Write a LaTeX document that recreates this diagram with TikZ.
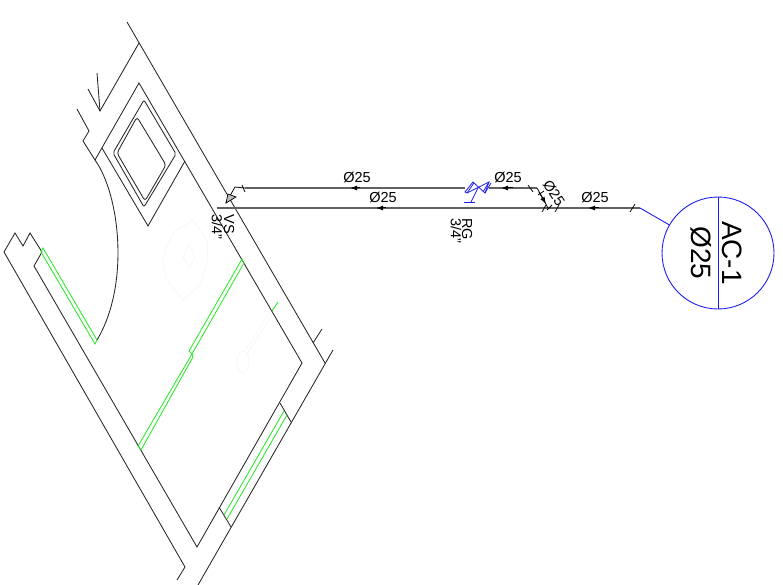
\documentclass[tikz,border=0pt]{standalone}
\usepackage{fontspec}
\setmainfont{Liberation Sans}
\usetikzlibrary{arrows.meta}
\definecolor{glass}{RGB}{40,235,40}
\definecolor{tagblue}{RGB}{30,30,235}
\definecolor{faint}{RGB}{245,245,245}
\tikzset{
  wall/.style={draw=black!85, line width=.85pt, line join=miter},
  glazing/.style={draw=glass, line width=.85pt},
  pipe/.style={draw=black!62, line width=1.3pt},
  slash/.style={draw=black, line width=.75pt},
  flow/.style={draw=black, line width=1pt, -{Latex[length=7pt,width=5pt]}},
  valve/.style={draw=tagblue, line width=.8pt},
  lab/.style={inner sep=0pt, font=\fontsize{14.5}{14.5}\selectfont},
  tagtext/.style={inner sep=0pt, rotate=-90, font=\fontsize{28}{28}\selectfont}
}
\begin{document}
\begin{tikzpicture}[x=1pt, y=-1pt]
    \useasboundingbox (0,0) rectangle (783,585);
    % outer and inner walls
    \draw[wall] (127,22) -- (325,363);
    \draw[wall] (333,350) -- (198,585);
    \draw[wall] (313,343) -- (322,329);
    \draw[wall] (34,266) -- (42,252) -- (30,233) -- (23,246) -- (15,233) -- (4,252) -- (185,567) -- (177,580);
    \draw[wall] (34,266) -- (197,547) -- (302,363) -- (139,83) -- (95,160);
    \draw[wall] (139,43) -- (100,111) -- (88,89);
    \draw[wall] (100,111) -- (97,73);
    \draw[wall] (77,109) -- (89,131) -- (83,141) -- (95,160);
    % shower tray
    \draw[wall] (102,148) -- (148,226) -- (185,161);
    \draw[wall, rounded corners=2pt] (144,100) -- (176,154) -- (144,207) -- (113,153) -- cycle;
    \draw[wall, rounded corners=3pt] (137,117) -- (166,165) -- (145,201) -- (117,153) -- cycle;
    % door swing
    \draw[wall] (95,160) .. controls (120,195) and (130,285) .. (97,340);
    % window jambs
    \draw[wall] (280,403) -- (291,422);
    \draw[wall] (219,507) -- (231,527);
    % glazing
    \draw[glazing] (43,248) -- (97,340) -- (95,344) -- (41,252) -- cycle;
    \draw[glazing] (138,446) -- (141,450) -- (193,357) -- (192,354) -- (138,446);
    \draw[glazing] (192,354) -- (189,351) -- (242,259) -- (244,263) -- (192,354);
    \draw[glazing] (284,411) -- (224,515);
    \draw[glazing] (287,415) -- (227,519);
    \draw[glazing] (272,311) -- (278,302);
    % faint fixtures
    \draw[faint, line width=.6pt] (193,220) -- (174,232) -- (165,250) -- (163,263) -- (167,280) -- (183,300) -- (200,285) -- (208,260) -- (207,240) -- cycle;
    \draw[faint, line width=.6pt] (189,245) -- (195,257) -- (189,268) -- (183,257) -- cycle;
    \draw[faint, line width=.6pt] (243,362) ellipse (6 and 11);
    \draw[faint, line width=.6pt] (244,352) -- (270,312);
    \draw[faint, line width=.6pt] (247,354) -- (272,315);
    % pipes
    \coordinate (topL) at (245,188);
    \coordinate (topV) at (465,188);
    \coordinate (topW) at (489,188);
    \coordinate (topR) at (537,188);
    \coordinate (lowL) at (217,208);
    \coordinate (lowM) at (548,208);
    \coordinate (lowR) at (640,208);
    \coordinate (kink) at (235,187);
    \draw[pipe] (topL) -- (topV);
    \draw[pipe] (topW) -- (topR);
    \draw[pipe] (lowL) -- (lowR);
    \draw[slash] (topL) -- (kink) -- (226,203);
    \draw[slash] (topR) -- (lowM);
    \draw[slash, fill=black!25] (226,203) -- (228,194) -- (236,197) -- cycle;
    % ticks
    \foreach \a/\b/\c/\d in {242/185/245/192, 528/185/533/192, 630/212/635/204, 542/212/546/205, 547/210/552/205, 555/212/559/205, 538/195/544/191}
      \draw[slash] (\a,\b) -- (\c,\d);
    % flow arrows
    \foreach \a/\b/\c/\d in {360/188/350/188, 386/208/376/208, 513/188/501/188, 599/208/588/208, 539/192/546/204}
      \draw[flow] (\a,\b) -- (\c,\d);
    % valve
    \draw[valve] (465,192) -- (473,182) -- (485,193) -- (489,182) -- (467,193) -- cycle;
    \draw[valve] (467,193) -- (474,183);
    \draw[valve] (483,192) -- (489,182);
    \draw[valve] (485,193) -- (491,183);
    \draw[valve] (478,188) -- (471,202);
    \draw[valve] (464,202) -- (475,202);
    % labels
    \node[lab] (labA) at (357,177) {Ø25};
    \node[lab] (labB) at (383,197) {Ø25};
    \node[lab] (labC) at (508,177) {Ø25};
    \node[lab] (labD) at (595,197) {Ø25};
    \node[lab, rotate=-57] (labE) at (554,193) {Ø25};
    \node[lab, rotate=-90] (labVS) at (229,224) {VS};
    \node[lab, rotate=-90] (labVSd) at (217,227) {3/4"};
    \node[lab, rotate=-90] (labRG) at (467,229) {RG};
    \node[lab, rotate=-90] (labRGd) at (456,231) {3/4"};
    % tag
    \node[circle, draw=tagblue, line width=.9pt, minimum size=112pt, inner sep=0pt] (tag) at (718,253) {};
    \draw[draw=tagblue, line width=.9pt] (tag.north) -- (tag.south);
    \draw[draw=tagblue, line width=.9pt] (lowR) -- (tag);
    \node[tagtext] (tagA) at (732,253) {AC-1};
    \node[tagtext] (tagB) at (701,253) {Ø25};
\end{tikzpicture}
\end{document}
